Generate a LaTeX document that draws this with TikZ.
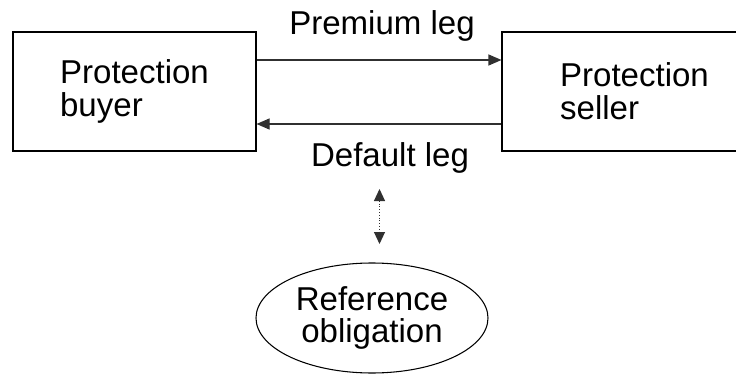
\documentclass[tikz,border=0pt]{standalone}
\usepackage{fontspec}
\setmainfont{Liberation Sans}
\usetikzlibrary{positioning,shapes.geometric,arrows.meta}
\definecolor{Ink}{HTML}{000000}
\definecolor{Wire}{HTML}{303030}
\tikzset{
  party/.style={draw=Ink,line width=0.6pt,align=left,text=Ink,
    font=\fontsize{18.8}{18.6}\selectfont,inner sep=0pt,
    minimum height=2.38cm},
  leglabel/.style={text=Ink,font=\fontsize{18.8}{18.6}\selectfont,
    anchor=base},
  flow/.style={-{Triangle[length=2.6mm,width=2.2mm]},Wire,line width=0.6pt},
}

\begin{document}
\begin{tikzpicture}[x=1cm,y=1cm]
        \useasboundingbox (0,0) rectangle (14.72,7.5);
        \node[party,minimum width=4.86cm] (buyer) at (2.69,5.67)
              {Protection\\buyer};
        \node[party,minimum width=5.3cm] (seller) at (12.69,5.67)
              {Protection\\seller};
        \node[draw=Ink,ellipse,line width=0.6pt,minimum width=4.64cm,
              minimum height=2.2cm,inner sep=0pt,align=center,text=Ink,
              font=\fontsize{18.8}{18.6}\selectfont] (refob) at (7.44,1.14)
              {Reference\\obligation};
        \draw[flow] ([yshift=6.3mm]buyer.east) -- ([yshift=6.3mm]seller.west);
        \draw[flow] ([yshift=-6.5mm]seller.west) -- ([yshift=-6.5mm]buyer.east);
        \node[leglabel] (prem) at (7.64,6.8) {Premium leg};
        \node[leglabel] (dflt) at (7.8,4.16) {Default leg};
        \coordinate (ltop) at (7.59,3.72);
        \coordinate (lbot) at (7.59,2.62);
        \draw[{Triangle[length=2.4mm,width=2.2mm]}-{Triangle[length=2.4mm,width=2.2mm]},
              Wire,densely dotted,line width=0.6pt] (ltop) -- (lbot);
      \end{tikzpicture}
\end{document}
